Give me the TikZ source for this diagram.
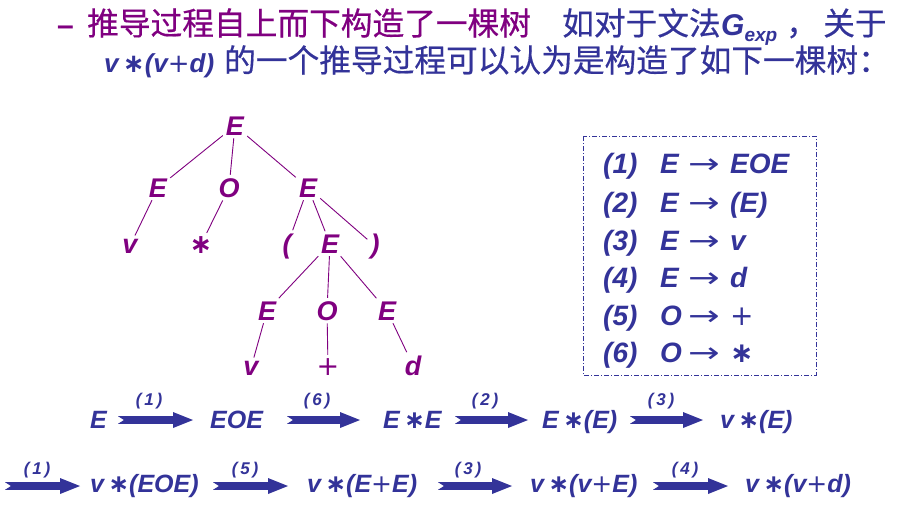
\documentclass[tikz,border=0pt]{standalone}
\usepackage{fontspec}
\setmainfont{Liberation Sans}
\newfontfamily\cjk{Noto Sans CJK SC}[UprightFeatures={FakeBold=0.5}]
\newfontfamily\dvs{DejaVu Sans}
\definecolor{tp}{HTML}{800080}
\definecolor{bl}{HTML}{333399}
\newcommand\myast{{\dvs\upshape ∗}}
\newcommand\myplus{{\dvs\mdseries\upshape +}}
\newcommand\myarrow{{\dvs\mdseries\upshape\scalebox{1.35}[1]{→}}}
\newcommand\blockarrow[3]{\fill[bl] (#1,#3-3.8) -- (#2-20,#3-3.8) -- (#2-20,#3-8) -- (#2,#3) -- (#2-20,#3+8) -- (#2-20,#3+3.8) -- (#1,#3+3.8) -- (#1+6,#3) -- cycle;}
\tikzset{
 tn/.style={text=tp, font=\fontsize{27}{32}\selectfont\bfseries\itshape, anchor=base, inner sep=3pt},
 te/.style={draw=tp, line width=0.9pt},
 rl/.style={text=bl, font=\fontsize{28}{32}\selectfont\bfseries\itshape, anchor=base west, inner sep=0pt},
 dv/.style={text=bl, font=\fontsize{25}{30}\selectfont\bfseries\itshape, anchor=base west, inner sep=0pt},
 lab/.style={text=bl, font=\fontsize{17}{19}\selectfont\bfseries\itshape, anchor=base, inner sep=0pt},
 cj/.style={anchor=base west, inner sep=0pt, font=\cjk\fontsize{31.7}{36}\selectfont},
 lt/.style={anchor=base west, inner sep=0pt, font=\fontsize{30}{36}\selectfont\bfseries\itshape},
}
\begin{document}
\begin{tikzpicture}[x=1pt,y=-1pt]
\useasboundingbox[fill=white] (0,0) rectangle (909,514);
% title
\node[anchor=base west, inner sep=0pt, text=tp, font=\fontsize{30}{36}\selectfont\bfseries] (dash) at (57,35) {–};
\node[cj, text=tp] (t1) at (87,35) {推导过程自上而下构造了一棵树};
\node[cj, text=bl] (t2) at (562,35) {如对于文法};
\node[lt, text=bl] (g) at (721,35) {G\raisebox{-6pt}{\fontsize{19}{22}\selectfont exp}};
\node[cj, text=bl] (t3) at (786,35) {，};
\node[cj, text=bl] (t3b) at (823,35) {关于};
\node[lt, text=bl, font=\fontsize{26}{30}\selectfont\bfseries\itshape] (t4) at (104,72) {v\,\myast(v\myplus d)};
\node[cj, text=bl] (t5) at (224,72) {的一个推导过程可以认为是构造了如下一棵树：};
% tree
\node[tn] (r) at (235,135) {E};
\node[tn] (a) at (158,197) {E};
\node[tn] (b) at (229,197) {O};
\node[tn] (c) at (308,197) {E};
\node[tn] (av) at (130,253) {v};
\node[tn] (bs) at (201,253) {\myast};
\node[tn] (cl) at (287,253) {(};
\node[tn] (ce) at (330,253) {E};
\node[tn] (cr) at (375,253) {)};
\node[tn] (d) at (267,320) {E};
\node[tn] (e) at (327,320) {O};
\node[tn] (f) at (387,320) {E};
\node[tn] (dv) at (251,375) {v};
\node[tn] (ep) at (328,375) {\myplus};
\node[tn] (fd) at (413,375) {d};
\draw[te] (r) -- (a);
\draw[te] (r) -- (b);
\draw[te] (r) -- (c);
\draw[te] (a) -- (av);
\draw[te] (b) -- (bs);
\draw[te] (c) -- (cl);
\draw[te] (c) -- (ce);
\draw[te] (c) -- (cr);
\draw[te] (ce) -- (d);
\draw[te] (ce) -- (e);
\draw[te] (ce) -- (f);
\draw[te] (d) -- (dv);
\draw[te] (e) -- (ep);
\draw[te] (f) -- (fd);
% rules box
\draw[bl, line width=1pt, dash pattern=on 5pt off 2pt on 1pt off 2pt] (583,136) rectangle (816,375);
\foreach \n/\y/\l/\rr in {1/173/E/EOE, 2/212/E/(E), 3/250/E/v, 4/287/E/d, 5/325/O/\myplus, 6/362/O/\myast}{
  \node[rl] (n\n) at (603,\y) {(\n)};
  \node[rl] (l\n) at (660,\y) {\l};
  \node[rl] (ar\n) at (688,\y) {\myarrow};
  \node[rl] (rh\n) at (730,\y) {\rr};
}
% derivation row 1
\node[dv] (s1) at (90,428) {E};
\node[dv] (s2) at (210,428) {EOE};
\node[dv] (s3) at (383,428) {E\,\myast E};
\node[dv] (s4) at (542,428) {E\,\myast(E)};
\node[dv] (s5) at (720,428) {v\,\myast(E)};
\blockarrow{118}{193}{420}
\blockarrow{287}{360}{420}
\blockarrow{455}{528}{420}
\blockarrow{630}{703}{420}
\node[lab] (la1) at (149,405) {(\,1\,)};
\node[lab] (la2) at (317,405) {(\,6\,)};
\node[lab] (la3) at (485,405) {(\,2\,)};
\node[lab] (la4) at (661,405) {(\,3\,)};
% derivation row 2
\node[dv] (s6) at (90,492) {v\,\myast(EOE)};
\node[dv] (s7) at (307,492) {v\,\myast(E\myplus E)};
\node[dv] (s8) at (530,492) {v\,\myast(v\myplus E)};
\node[dv] (s9) at (745,492) {v\,\myast(v\myplus d)};
\blockarrow{5}{80}{486}
\blockarrow{213}{288}{486}
\blockarrow{438}{512}{486}
\blockarrow{653}{728}{486}
\node[lab] (lb1) at (37,474) {(\,1\,)};
\node[lab] (lb2) at (245,474) {(\,5\,)};
\node[lab] (lb3) at (468,474) {(\,3\,)};
\node[lab] (lb4) at (685,474) {(\,4\,)};
\end{tikzpicture}
\end{document}
